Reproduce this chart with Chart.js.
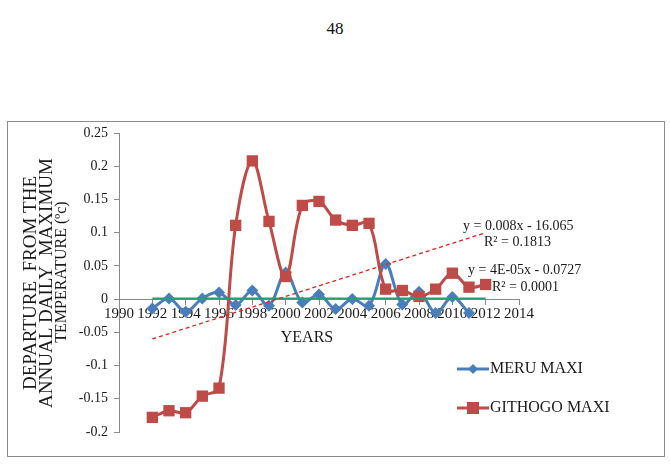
<!DOCTYPE html>
<html>
<head>
<meta charset="utf-8">
<script src="https://cdn.jsdelivr.net/npm/chart.js@4.4.1/dist/chart.umd.min.js"></script>
<style>
  body { margin: 0; background: #fff; }
  #pageNum { position: absolute; left: 0; width: 670px; top: 19px; text-align: center; font: 17px 'Liberation Serif', serif; color: #111; }
  #box { position: absolute; left: 7px; top: 121px; width: 656px; height: 334px; border: 1px solid #8a8a8a; }
  #wrap { position: absolute; left: 0; top: 0; width: 670px; height: 468px; }
</style>
</head>
<body>
<div id="pageNum">48</div>
<div id="box"></div>
<div id="wrap"><canvas id="chart" width="670" height="468"></canvas></div>
<script>
// years on the x axis (GITHOGO runs one year longer than MERU)
const years = [1992, 1993, 1994, 1995, 1996, 1997, 1998, 1999, 2000, 2001, 2002,
               2003, 2004, 2005, 2006, 2007, 2008, 2009, 2010, 2011, 2012];

// departures
const meru = [-0.014, 0.001, -0.019, 0.001, 0.010, -0.009, 0.013, -0.010, 0.040, -0.005,
              0.007, -0.015, 0.000, -0.010, 0.053, -0.008, 0.011, -0.021, 0.003, -0.021];
const githogo = [-0.178, -0.168, -0.171, -0.146, -0.134, 0.111, 0.208, 0.117, 0.034, 0.141,
                 0.147, 0.119, 0.111, 0.114, 0.015, 0.013, 0.004, 0.015, 0.039, 0.018, 0.022];

// linear trend lines (end points)
const trendYears = [1992, 2012];
const githogoTrend = [-0.060, 0.100];
const meruTrend = [0.001, 0.001];

const seriesNames = ['MERU MAXI', 'GITHOGO MAXI'];
const yTitle = ['DEPARTURE  FROM THE', 'ANNUAL DAILY  MAXIMUM', 'TEMPERATURE (ºc)'];

const toPoints = (xs, ys) => ys.map((v, i) => ({ x: xs[i], y: v }));

const serif = "'Liberation Serif', 'Times New Roman', serif";
const BLUE = '#4a7ebb';
const RED = '#be4b48';

// axis title, trend equations and legend
const extras = {
  id: 'extras',
  afterDraw(chart) {
    const ctx = chart.ctx;
    ctx.save();
    ctx.fillStyle = '#1a1a1a';

    // rotated y title, three lines
    const lines = [
      { t: yTitle[0], x: 31, y: 283, size: 19 },
      { t: yTitle[1], x: 47, y: 283, size: 19 },
      { t: yTitle[2], x: 62, y: 272, size: 16 }
    ];
    lines.forEach(l => {
      ctx.save();
      ctx.translate(l.x, l.y);
      ctx.rotate(-Math.PI / 2);
      ctx.font = l.size + 'px ' + serif;
      ctx.textAlign = 'center';
      ctx.textBaseline = 'middle';
      ctx.fillText(l.t, 0, 0);
      ctx.restore();
    });

    // x title
    ctx.font = '16px ' + serif;
    ctx.textAlign = 'center';
    ctx.textBaseline = 'middle';
    ctx.fillText('YEARS', 307, 338);

    // trend equations
    ctx.font = '14px ' + serif;
    ctx.textAlign = 'left';
    ctx.fillText('y = 0.008x - 16.065', 463, 226);
    ctx.fillText('R² = 0.1813', 484, 242);
    ctx.fillText('y = 4E-05x - 0.0727', 468, 270);
    ctx.fillText('R² = 0.0001', 492, 287);

    // legend
    const items = [
      { name: seriesNames[0], color: BLUE, y: 369, shape: 'diamond' },
      { name: seriesNames[1], color: RED, y: 408, shape: 'square' }
    ];
    items.forEach(it => {
      ctx.strokeStyle = it.color;
      ctx.lineWidth = 3;
      ctx.beginPath();
      ctx.moveTo(457, it.y);
      ctx.lineTo(489, it.y);
      ctx.stroke();
      ctx.fillStyle = it.color;
      ctx.beginPath();
      if (it.shape === 'diamond') {
        ctx.moveTo(473, it.y - 5);
        ctx.lineTo(478, it.y);
        ctx.lineTo(473, it.y + 5);
        ctx.lineTo(468, it.y);
        ctx.closePath();
      } else {
        ctx.rect(467, it.y - 6, 12, 12);
      }
      ctx.fill();
      ctx.fillStyle = '#1a1a1a';
      ctx.font = '16px ' + serif;
      ctx.textAlign = 'left';
      ctx.textBaseline = 'middle';
      ctx.fillText(it.name, 490, it.y);
    });
    ctx.restore();
  }
};

new Chart(document.getElementById('chart'), {
  type: 'line',
  data: {
    datasets: [
      {
        label: seriesNames[0],
        data: toPoints(years, meru),
        borderColor: BLUE,
        backgroundColor: BLUE,
        borderWidth: 3,
        pointStyle: 'rectRot',
        pointRadius: 6,
        pointBorderWidth: 0,
        tension: 0.35,
        order: 2
      },
      {
        label: seriesNames[1],
        data: toPoints(years, githogo),
        borderColor: RED,
        backgroundColor: RED,
        borderWidth: 3,
        pointStyle: 'rect',
        pointRadius: 8,
        pointBorderWidth: 0,
        tension: 0.35,
        order: 1
      },
      {
        label: 'Linear (GITHOGO MAXI)',
        data: toPoints(trendYears, githogoTrend),
        borderColor: '#e3231f',
        borderWidth: 1.3,
        borderDash: [4, 3],
        pointRadius: 0,
        order: 0
      },
      {
        label: 'Linear (MERU MAXI)',
        data: toPoints(trendYears, meruTrend),
        borderColor: '#22a06f',
        borderWidth: 2,
        pointRadius: 0,
        order: 0
      }
    ]
  },
  options: {
    responsive: false,
    animation: false,
    layout: { padding: { top: 133, right: 151, bottom: 36, left: 0 } },
    plugins: {
      legend: { display: false },
      tooltip: { enabled: false }
    },
    scales: {
      x: {
        type: 'linear',
        position: { y: 0 },
        min: 1990,
        max: 2014,
        grid: { drawOnChartArea: false, color: '#8a8a8a', tickLength: 5 },
        border: { color: '#8a8a8a' },
        ticks: {
          stepSize: 2,
          color: '#1a1a1a',
          font: { family: serif, size: 15 },
          padding: 1,
          maxRotation: 0,
          callback: v => String(v)
        }
      },
      y: {
        min: -0.2,
        max: 0.25,
        afterFit: s => { s.width = 119; },
        grid: { drawOnChartArea: false, color: '#8a8a8a', tickLength: 5 },
        border: { color: '#8a8a8a' },
        ticks: {
          stepSize: 0.05,
          color: '#1a1a1a',
          font: { family: serif, size: 14 },
          padding: 6,
          callback: v => String(+v.toFixed(2))
        }
      }
    }
  },
  plugins: [extras]
});
</script>
</body>
</html>
